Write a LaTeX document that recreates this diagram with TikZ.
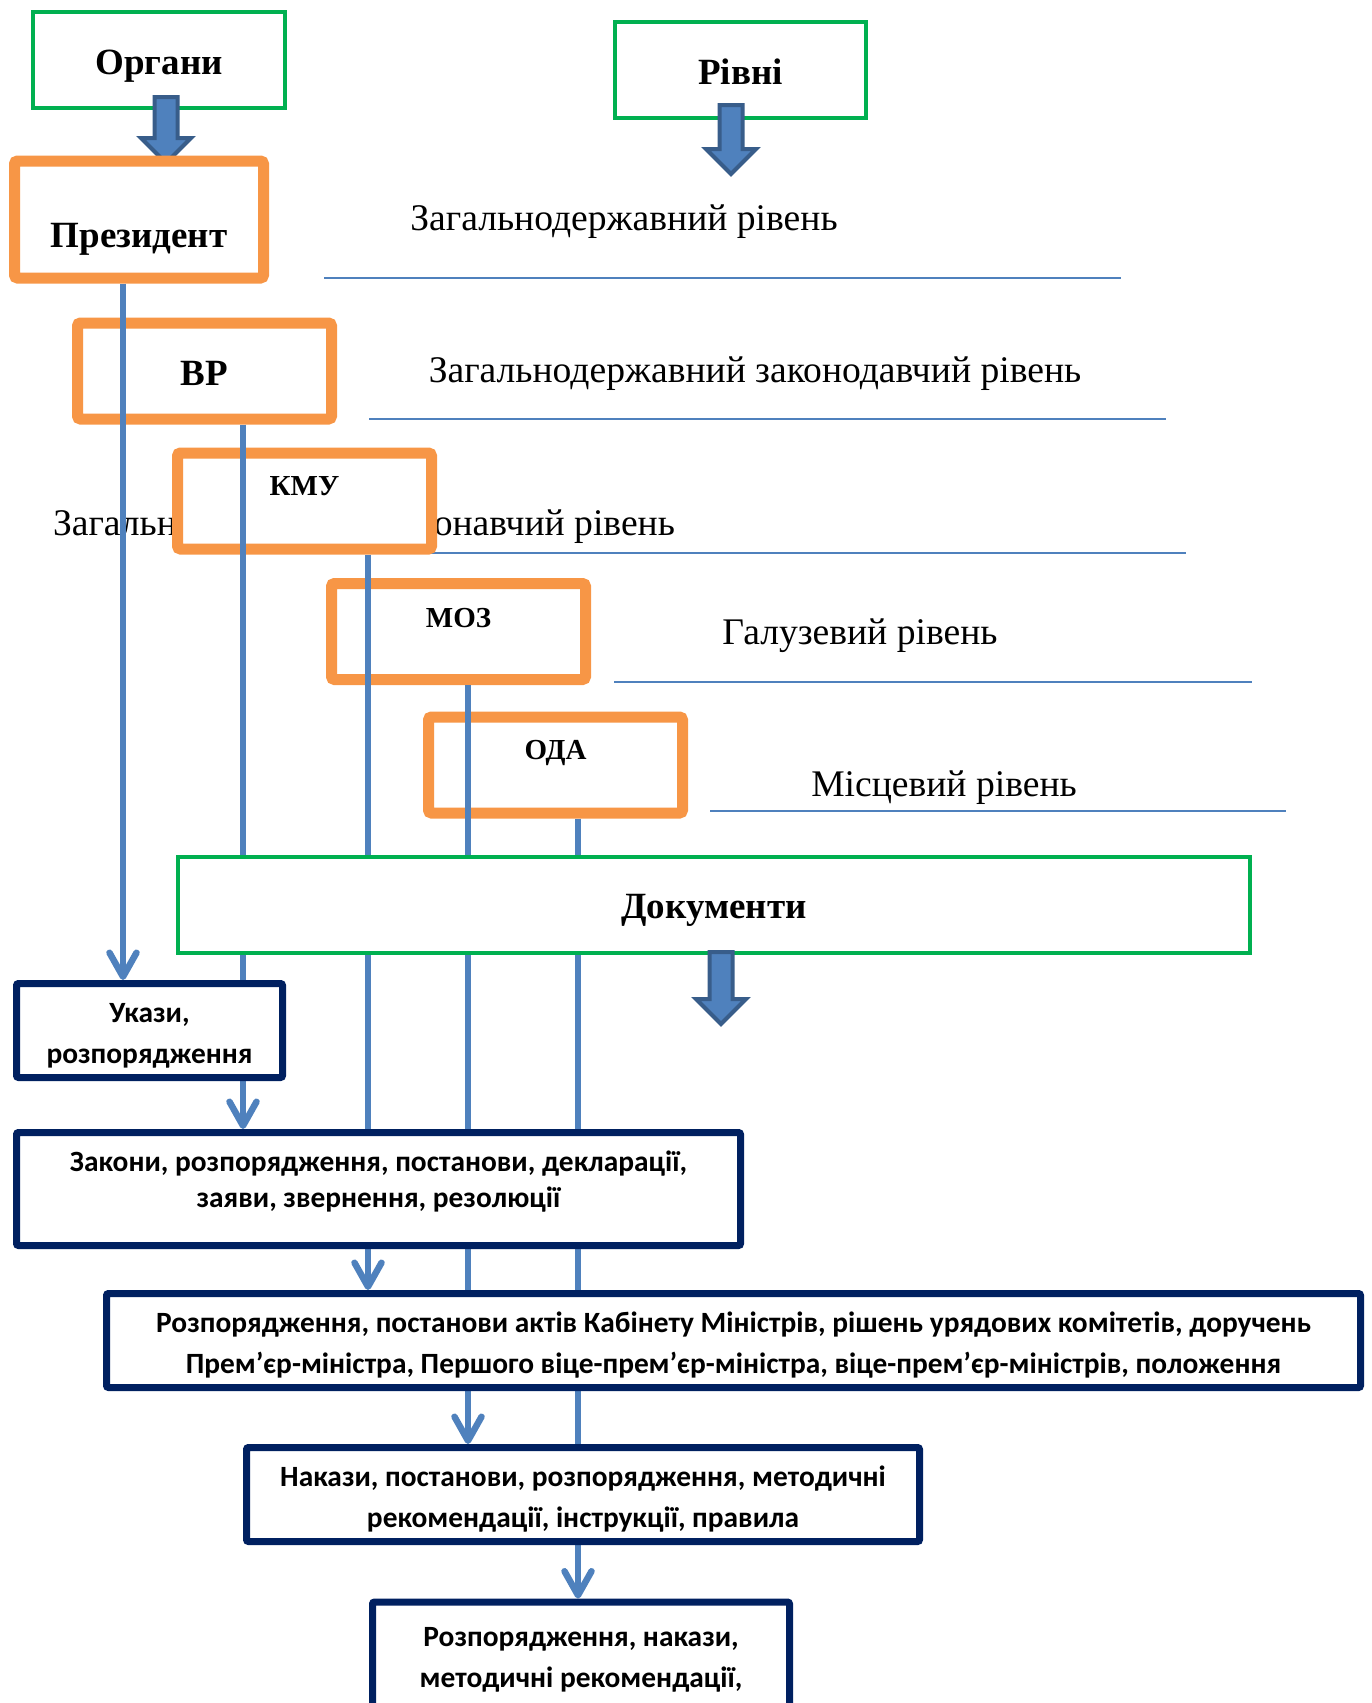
\documentclass[tikz,border=0pt]{standalone}
\usepackage{fontspec}
\setmainfont{Liberation Serif}
\newfontfamily\calfont{Carlito}
\usetikzlibrary{arrows.meta,calc}
\definecolor{lineblue}{RGB}{79,129,189}
\definecolor{arrowedge}{RGB}{56,93,138}
\definecolor{boxorange}{RGB}{247,150,70}
\definecolor{boxgreen}{RGB}{0,176,80}
\definecolor{boxnavy}{RGB}{0,32,96}
\pgfdeclarelayer{front}
\pgfsetlayers{main,front}
% fat block arrow going down from #1 to #2
\newcommand{\blockarrow}[2]{%
  \draw[barrow] let \p1=(#1), \p2=(#2) in
    (\x1-11.5pt,\y1) -- (\x1+11.5pt,\y1) -- (\x1+11.5pt,\y2+25pt) -- (\x1+25pt,\y2+25pt)
    -- (\x1,\y2) -- (\x1-25pt,\y2+25pt) -- (\x1-11.5pt,\y2+25pt) -- cycle;}

\begin{document}
\begin{tikzpicture}[x=1pt,y=-1pt,
  head/.style={draw=boxgreen, line width=4pt, fill=white, minimum width=251.5pt, minimum height=96pt},
  organ/.style={draw=boxorange, line width=11pt, rounded corners=3pt, fill=white, minimum width=254pt, minimum height=96pt},
  bigtext/.style={font=\fontsize{37}{44}\selectfont\bfseries},
  organtext/.style={font=\fontsize{29}{34}\selectfont\bfseries},
  level/.style={font=\fontsize{37.6}{44}\selectfont},
  levelline/.style={lineblue, line width=2pt},
  link/.style={lineblue, line width=6.5pt, -{Straight Barb[length=24pt,width=27pt,round]}},
  doc/.style={draw=boxnavy, line width=7pt, rounded corners=2pt, fill=white, minimum height=94pt},
  doctext/.style={align=center, font=\calfont\bfseries\fontsize{29.4}{41}\selectfont},
  barrow/.style={fill=lineblue, draw=arrowedge, line width=4pt}]
\useasboundingbox (0,0) rectangle (1371,1703);

% levels
\node[level] (lev1) at (624,222) {Загальнодержавний рівень};
\draw[levelline] (324,278) -- (1121,278);
\node[level] (lev2) at (755,374) {Загальнодержавний законодавчий рівень};
\draw[levelline] (369,419) -- (1166,419);
\node[level] (lev3) at (364,527) {Загальнодержавний виконавчий рівень};
\draw[levelline] (427,553) -- (1186,553);
\node[level] (lev4) at (860,636) {Галузевий рівень};
\draw[levelline] (614,682) -- (1252,682);
\node[level] (lev5) at (944,788) {Місцевий рівень};
\draw[levelline] (710,811) -- (1286,811);

% headers
\node[head] (organy) at (159,60) {};
\node[bigtext] (organy-l) at ([yshift=-6.5pt]organy.center) {Органи};
\node[head] (rivni) at (740.5,70) {};
\node[bigtext] (rivni-l) at ([yshift=-2pt]rivni.center) {Рівні};
\coordinate (oa) at ([xshift=7pt,yshift=13pt]organy.south);
\coordinate (otip) at (166,163);
\blockarrow{oa}{otip}
\coordinate (ra) at ([xshift=-9.5pt,yshift=15pt]rivni.south);
\coordinate (rtip) at (731,174);
\blockarrow{ra}{rtip}

% organs
\node[organ, minimum width=249pt, minimum height=117pt] (prez) at (139,219.5) {};
\node[bigtext] (prez-l) at ([yshift=-19.5pt]prez.center) {Президент};
\node[organ] (vr) at (204.5,371) {};
\node[bigtext] (vr-l) at ([yshift=-2pt]vr.center) {ВР};
\node[organ] (kmu) at (304.5,501) {};
\node[organtext] (kmu-l) at ([yshift=15pt]kmu.center) {КМУ};
\node[organ] (moz) at (458.5,631.5) {};
\node[organtext] (moz-l) at ([yshift=13pt]moz.center) {МОЗ};
\node[organ] (oda) at (555.5,765) {};
\node[organtext] (oda-l) at ([yshift=12pt]oda.center) {ОДА};

% documents
\begin{pgfonlayer}{front}
\node[head, minimum width=1072pt] (docs) at (714,905) {};
\node[bigtext] (docs-l) at ([yshift=-5.5pt]docs.center) {Документи};
\coordinate (da) at ([xshift=7pt,yshift=3pt]docs.south);
\coordinate (dtip) at (721,1024);
\blockarrow{da}{dtip}
\node[doc, minimum width=266pt] (ukazy) at (149.5,1030.5) {};
\node[doctext] (ukazy-l) at ([yshift=-5pt]ukazy.center) {Укази,\\розпорядження};
\node[doc, minimum width=724pt, minimum height=113pt] (zakony) at (378.5,1189) {};
\node[doctext, font=\calfont\bfseries\fontsize{29.4}{36}\selectfont] (zakony-l) at ([yshift=7.5pt]zakony.center)
  {Закони, розпорядження, постанови, декларації,\\заяви, звернення, резолюції};
\node[doc, minimum width=1254pt] (rozp) at (733.5,1340.5) {};
\node[doctext] (rozp-l) at ([yshift=-5pt]rozp.center)
  {Розпорядження, постанови актів Кабінету Міністрів, рішень урядових комітетів, доручень\\Прем’єр-міністра, Першого віце-прем’єр-міністра, віце-прем’єр-міністрів, положення};
\node[doc, minimum width=673pt] (nakazy) at (583,1494.5) {};
\node[doctext] (nakazy-l) at ([yshift=-5pt]nakazy.center)
  {Накази, постанови, розпорядження, методичні\\рекомендації, інструкції, правила};
\node[doc, minimum width=417pt, minimum height=116pt] (last) at (581,1660) {};
\node[doctext] (last-l) at (last.center)
  {Розпорядження, накази,\\методичні рекомендації,};
\end{pgfonlayer}

% links
\draw[link] ([xshift=-16pt]prez.south) -- ([xshift=-16pt]prez.south |- ukazy.north);
\draw[link] ([xshift=38.5pt]vr.south) -- ([xshift=38.5pt]vr.south |- zakony.north);
\draw[link] ([xshift=63.5pt]kmu.south) -- ([xshift=63.5pt]kmu.south |- rozp.north);
\draw[link] ([xshift=9.5pt]moz.south) -- ([xshift=9.5pt]moz.south |- nakazy.north);
\draw[link] ([xshift=22.5pt]oda.south) -- ([xshift=22.5pt]oda.south |- last.north);
\end{tikzpicture}
\end{document}
